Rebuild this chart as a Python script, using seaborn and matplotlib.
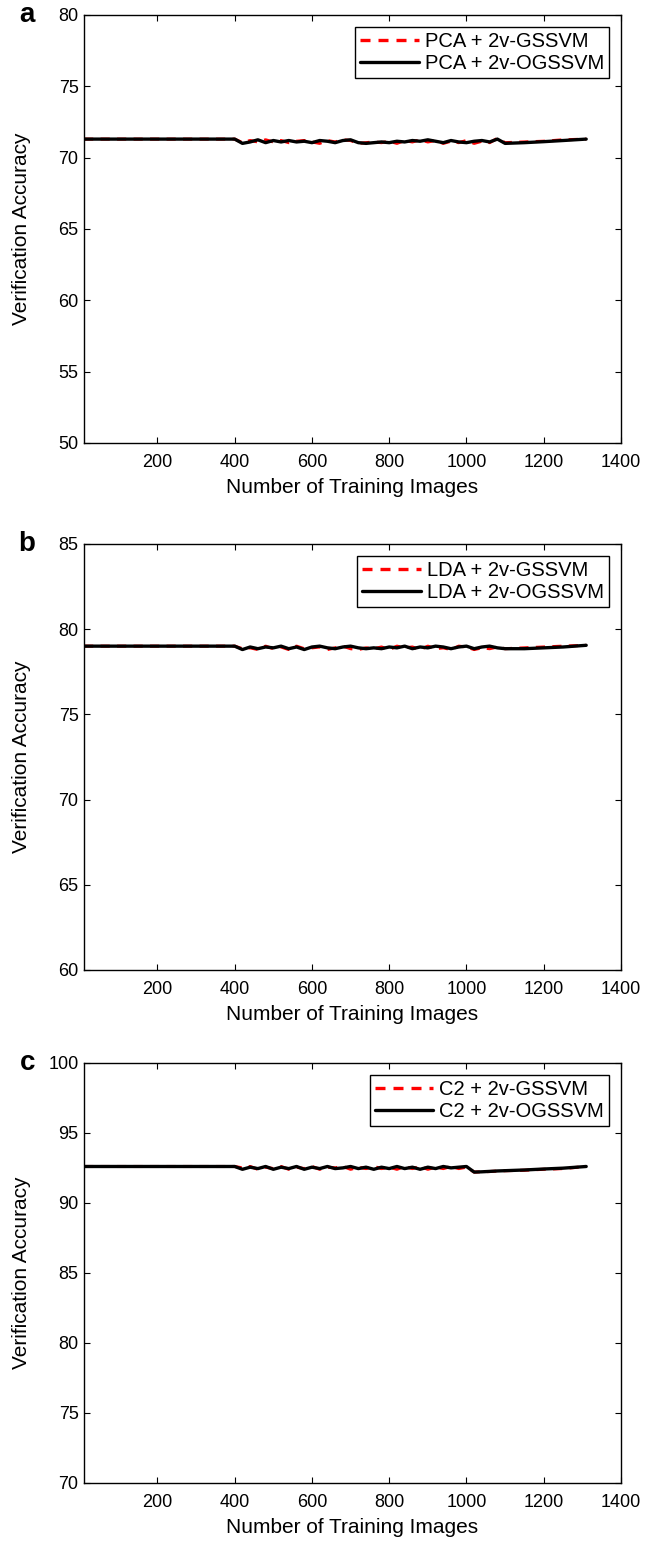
import matplotlib

matplotlib.use("Agg")
import matplotlib.pyplot as plt
import seaborn as sns

# ── Data ─────────────────────────────────────────────────────────────────────
n_images = [10, 390, 400, 420, 440, 460, 480, 500, 520, 540, 560, 580, 600, 620,
            640, 660, 680, 700, 720, 740, 760, 780, 800, 820, 840, 860, 880, 900,
            920, 940, 960, 980, 1000, 1020, 1040, 1060, 1080, 1100, 1150, 1200,
            1250, 1310]

pca_gssvm = [71.3, 71.3, 71.3, 71.05, 71.2, 71.1, 71.25, 71.1, 71.2, 71.05, 71.15,
             71.2, 71.1, 71.0, 71.2, 71.1, 71.25, 71.2, 71.0, 71.05, 71.1, 71.05,
             71.15, 71.0, 71.2, 71.1, 71.25, 71.1, 71.2, 71.0, 71.15, 71.05, 71.2,
             71.0, 71.15, 71.05, 71.35, 71.05, 71.1, 71.15, 71.25, 71.3]
pca_ogssvm = [71.3, 71.3, 71.3, 71.0, 71.1, 71.25, 71.05, 71.2, 71.1, 71.2, 71.1,
              71.15, 71.05, 71.2, 71.15, 71.05, 71.2, 71.25, 71.05, 71.0, 71.05,
              71.1, 71.05, 71.15, 71.1, 71.2, 71.15, 71.25, 71.15, 71.05, 71.2, 71.1,
              71.05, 71.15, 71.2, 71.1, 71.3, 71.0, 71.05, 71.12, 71.2, 71.3]

lda_gssvm = [79.0, 79.0, 79.0, 78.85, 78.9, 78.8, 79.0, 78.85, 78.95, 78.8, 79.0,
             78.85, 78.9, 78.95, 78.8, 78.9, 79.0, 78.85, 78.8, 78.9, 78.85, 78.95,
             78.8, 79.0, 78.9, 78.95, 78.8, 79.0, 78.85, 78.9, 78.8, 79.0, 78.95,
             78.8, 78.9, 78.85, 78.95, 78.85, 78.9, 78.95, 79.0, 79.05]
lda_ogssvm = [79.0, 79.0, 79.0, 78.8, 78.95, 78.85, 78.95, 78.9, 79.0, 78.85, 78.95,
              78.8, 78.95, 79.0, 78.9, 78.85, 78.95, 79.0, 78.9, 78.85, 78.9, 78.85,
              78.95, 78.9, 79.0, 78.85, 78.95, 78.9, 79.0, 78.95, 78.85, 78.95, 79.0,
              78.85, 78.95, 79.0, 78.9, 78.85, 78.85, 78.9, 78.95, 79.05]

c2_gssvm = [92.6, 92.6, 92.6, 92.5, 92.6, 92.4, 92.55, 92.45, 92.6, 92.4, 92.55,
            92.45, 92.6, 92.4, 92.55, 92.5, 92.6, 92.4, 92.55, 92.45, 92.6, 92.45,
            92.55, 92.4, 92.6, 92.45, 92.6, 92.4, 92.55, 92.45, 92.6, 92.45, 92.55,
            92.2, 92.22, 92.24, 92.27, 92.3, 92.33, 92.4, 92.45, 92.6]
c2_ogssvm = [92.6, 92.6, 92.6, 92.4, 92.55, 92.45, 92.6, 92.4, 92.55, 92.45, 92.6,
             92.4, 92.55, 92.45, 92.6, 92.45, 92.5, 92.6, 92.45, 92.55, 92.4, 92.55,
             92.45, 92.6, 92.45, 92.55, 92.4, 92.55, 92.45, 92.6, 92.5, 92.55, 92.6,
             92.2, 92.22, 92.25, 92.28, 92.3, 92.35, 92.42, 92.48, 92.6]

panels = [
    ("a", "PCA", pca_gssvm, pca_ogssvm, (50, 80)),
    ("b", "LDA", lda_gssvm, lda_ogssvm, (60, 85)),
    ("c", "C2", c2_gssvm, c2_ogssvm, (70, 100)),
]

# axes boxes in figure fraction: left, bottom, width, height
boxes = [
    (0.127, 0.7135, 0.811, 0.2768),
    (0.127, 0.3726, 0.811, 0.2756),
    (0.127, 0.0408, 0.811, 0.2717),
]

# ─────────────────────────────────────────────────────────────────────────────
sns.set_theme(style="ticks")
plt.rcParams["font.family"] = ["Liberation Sans", "DejaVu Sans"]
plt.rcParams["text.color"] = "black"
plt.rcParams["axes.labelcolor"] = "black"

fig = plt.figure(figsize=(6.62, 15.46), dpi=100)

for (letter, name, g_vals, og_vals, ylim), box in zip(panels, boxes):
    ax = fig.add_axes(box)

    sns.lineplot(x=n_images, y=g_vals, ax=ax, color="red", linestyle="--",
                 linewidth=2.2, label=f"{name} + 2v-GSSVM")
    sns.lineplot(x=n_images, y=og_vals, ax=ax, color="black", linewidth=2.4,
                 label=f"{name} + 2v-OGSSVM")
    ax.lines[0].set_dashes((3.0, 2.4))

    ax.set_xlim(10, 1400)
    ax.set_ylim(*ylim)
    ax.set_xticks(range(200, 1401, 200))
    ax.set_yticks(range(ylim[0], ylim[1] + 1, 5))
    ax.tick_params(direction="in", top=True, right=True, length=4, width=0.8,
                   labelsize=13, colors="black", pad=4)
    ax.tick_params(axis="x", pad=8)
    for sp in ax.spines.values():
        sp.set_visible(True)
        sp.set_color("black")
        sp.set_linewidth(1.0)

    ax.set_xlabel("Number of Training Images", fontsize=15, labelpad=5)
    ax.set_ylabel("Verification Accuracy", fontsize=15)
    ax.yaxis.set_label_coords(-0.098, 0.5)

    leg = ax.legend(loc="upper right", fontsize=14.5, handlelength=2.9,
                    frameon=True, fancybox=False, borderaxespad=0.6,
                    borderpad=0.25, labelspacing=0.15, handletextpad=0.3)
    leg.get_frame().set_edgecolor("black")
    leg.get_frame().set_linewidth(1.0)
    leg.get_frame().set_alpha(1.0)
    for h in leg.get_lines():
        h.set_linewidth(2.4)

    ax.text(-0.106, 1.0, letter, transform=ax.transAxes, fontsize=20,
            fontweight="bold", ha="center", va="center")

fig.savefig("out.png", dpi=100)
plt.close(fig)
